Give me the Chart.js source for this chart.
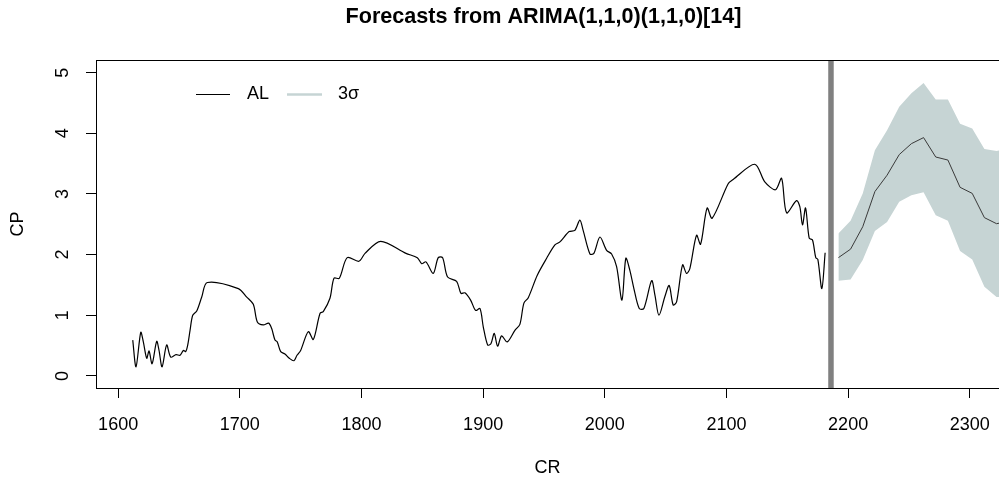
<!DOCTYPE html>
<html>
<head>
<meta charset="utf-8">
<script src="https://cdn.jsdelivr.net/npm/chart.js@4.4.0/dist/chart.umd.min.js"></script>
<style>
  html, body { margin: 0; padding: 0; background: #fff; }
</style>
</head>
<body>
<canvas id="fcChart" width="999" height="481"></canvas>
<script>
// observed series (CR -> CP)
var obsCR = [1612.0, 1614.7, 1618.6, 1620.7, 1623.5, 1625.4, 1627.9, 1631.7, 1633.6, 1636.1,
  1639.9, 1643.2, 1647.6, 1650.9, 1653.6, 1655.5, 1657.2, 1659.1, 1661.3, 1664.6,
  1668.7, 1673.3, 1698.8, 1705.7, 1711.1, 1714.4, 1719.3, 1723.7, 1726.2, 1728.9,
  1730.8, 1733.6, 1737.1, 1740.7, 1744.5, 1747.0, 1750.0, 1756.3, 1760.4, 1765.9,
  1768.6, 1774.1, 1777.4, 1781.8, 1788.3, 1797.9, 1802.9, 1815.8, 1836.6, 1845.9,
  1849.5, 1853.0, 1859.0, 1863.1, 1866.7, 1870.8, 1878.2, 1881.8, 1885.0, 1889.7,
  1893.8, 1897.4, 1900.1, 1903.7, 1906.4, 1909.1, 1911.9, 1915.2, 1919.8, 1926.1,
  1930.2, 1933.5, 1937.1, 1944.5, 1952.2, 1959.0, 1963.1, 1970.7, 1975.4, 1979.5,
  1982.2, 1987.8, 1991.0, 1996.0, 2001.5, 2005.6, 2009.7, 2014.1, 2017.3, 2020.6,
  2023.9, 2028.3, 2032.1, 2038.5, 2041.2, 2044.5, 2049.4, 2052.9, 2056.2, 2059.0,
  2063.9, 2067.2, 2069.9, 2075.4, 2078.7, 2084.1, 2088.2, 2101.4, 2105.5, 2123.3,
  2131.5, 2140.3, 2145.3, 2149.4, 2157.6, 2160.3, 2162.5, 2165.0, 2168.0, 2170.7,
  2173.4, 2175.1, 2178.4, 2181.1];
var obsCP = [0.59, 0.15, 0.72, 0.56, 0.29, 0.41, 0.20, 0.57, 0.42, 0.15,
  0.51, 0.31, 0.35, 0.34, 0.42, 0.40, 0.51, 0.75, 1.00, 1.07,
  1.30, 1.54, 1.44, 1.30, 1.18, 0.89, 0.84, 0.87, 0.78, 0.59,
  0.56, 0.40, 0.36, 0.29, 0.25, 0.34, 0.42, 0.73, 0.60, 1.03,
  1.06, 1.28, 1.61, 1.61, 1.95, 1.89, 2.02, 2.22, 2.02, 1.95,
  1.85, 1.88, 1.69, 1.95, 1.95, 1.63, 1.56, 1.36, 1.37, 1.25,
  1.08, 1.11, 0.81, 0.51, 0.53, 0.70, 0.49, 0.66, 0.56, 0.75,
  0.85, 1.20, 1.29, 1.66, 1.94, 2.16, 2.21, 2.38, 2.40, 2.57,
  2.40, 2.01, 2.02, 2.29, 2.07, 2.01, 1.80, 1.25, 1.94, 1.74,
  1.44, 1.11, 1.11, 1.57, 1.33, 1.00, 1.31, 1.49, 1.17, 1.22,
  1.83, 1.69, 1.77, 2.32, 2.17, 2.77, 2.60, 3.17, 3.24, 3.49,
  3.20, 3.07, 3.26, 2.69, 2.89, 2.79, 2.49, 2.77, 2.27, 2.24,
  1.95, 1.92, 1.44, 2.03];

// forecast
var fcCR = [2192, 2202, 2212, 2222, 2232, 2242, 2252, 2262, 2272, 2282, 2292, 2302, 2312, 2322, 2332];
var fcMean = [1.95, 2.09, 2.46, 3.04, 3.31, 3.65, 3.83, 3.93, 3.61, 3.56, 3.11, 3.01, 2.61, 2.51, 2.55];
var fcUpper = [2.35, 2.56, 3.01, 3.72, 4.05, 4.44, 4.66, 4.83, 4.56, 4.56, 4.16, 4.08, 3.74, 3.71, 3.75];
var fcLower = [1.57, 1.59, 1.91, 2.39, 2.54, 2.87, 2.98, 3.03, 2.65, 2.56, 2.06, 1.92, 1.47, 1.30, 1.30];

var cutCR = 2185.9;
var chartTitle = 'Forecasts from ARIMA(1,1,0)(1,1,0)[14]';
var bandColor = '#c6d4d4';
var fontFam = '"Liberation Sans", Arial, sans-serif';

function pairs(xs, ys) {
  return xs.map(function(x, i) { return { x: x, y: ys[i] }; });
}

// extra drawing: title, box top, cut line, y labels, legend
var decorPlugin = {
  id: 'decor',
  afterDatasetsDraw: function(chart) {
    var ctx = chart.ctx;
    var area = chart.chartArea;
    var xs = chart.scales.x;
    var ys = chart.scales.y;

    // vertical cut line
    var cx = xs.getPixelForValue(cutCR);
    ctx.save();
    ctx.strokeStyle = '#808080';
    ctx.lineWidth = 5.5;
    ctx.beginPath();
    ctx.moveTo(cx, area.top);
    ctx.lineTo(cx, area.bottom);
    ctx.stroke();

    // top of box
    ctx.strokeStyle = '#000';
    ctx.lineWidth = 1;
    ctx.beginPath();
    ctx.moveTo(area.left, area.top + 0.5);
    ctx.lineTo(area.right + 2, area.top + 0.5);
    ctx.stroke();

    // title
    ctx.fillStyle = '#000';
    ctx.font = 'bold 21.6px ' + fontFam;
    ctx.textAlign = 'center';
    ctx.textBaseline = 'middle';
    ctx.fillText(chartTitle, 543.5, 17);

    // rotated y tick labels
    ctx.font = '18px ' + fontFam;
    ys.ticks.forEach(function(t) {
      var py = ys.getPixelForValue(t.value);
      ctx.save();
      ctx.translate(63, py);
      ctx.rotate(-Math.PI / 2);
      ctx.fillText(String(t.value), 0, 0);
      ctx.restore();
    });

    // legend
    var ly = 94.5;
    ctx.textAlign = 'left';
    ctx.strokeStyle = '#000';
    ctx.lineWidth = 1;
    ctx.beginPath();
    ctx.moveTo(196, ly);
    ctx.lineTo(230, ly);
    ctx.stroke();
    ctx.fillText('AL', 247, ly);
    ctx.strokeStyle = bandColor;
    ctx.lineWidth = 2.5;
    ctx.beginPath();
    ctx.moveTo(287, ly);
    ctx.lineTo(322, ly);
    ctx.stroke();
    ctx.fillText('3\u03c3', 338, ly);
    ctx.restore();
  }
};

var fcChart = new Chart(document.getElementById('fcChart'), {
  type: 'line',
  data: {
    datasets: [
      {
        label: 'AL',
        data: pairs(obsCR, obsCP),
        borderColor: '#000',
        borderWidth: 1.2,
        pointRadius: 0,
        tension: 0.3,
        fill: false,
        order: 0
      },
      {
        label: '3\u03c3',
        data: pairs(fcCR, fcUpper),
        borderWidth: 0,
        borderColor: 'rgba(0,0,0,0)',
        backgroundColor: bandColor,
        pointRadius: 0,
        tension: 0,
        fill: '+1',
        order: 2
      },
      {
        label: 'lower',
        data: pairs(fcCR, fcLower),
        borderWidth: 0,
        borderColor: 'rgba(0,0,0,0)',
        pointRadius: 0,
        tension: 0,
        fill: false,
        order: 2
      },
      {
        label: 'mean',
        data: pairs(fcCR, fcMean),
        borderColor: '#3a3a3a',
        borderWidth: 1,
        pointRadius: 0,
        tension: 0,
        fill: false,
        order: 1
      }
    ]
  },
  options: {
    responsive: false,
    animation: false,
    devicePixelRatio: 1,
    layout: { padding: { top: 60, left: 0, right: 0, bottom: 0 } },
    plugins: {
      legend: { display: false },
      title: { display: false },
      tooltip: { enabled: false }
    },
    scales: {
      x: {
        type: 'linear',
        min: 1581.8,
        max: 2324,
        afterFit: function(s) {
          s.height = 93;
          s.paddingLeft = 0;
          s.paddingRight = 0;
        },
        ticks: {
          stepSize: 100,
          includeBounds: false,
          autoSkip: false,
          maxRotation: 0,
          padding: 16,
          color: '#000',
          font: { family: fontFam, size: 18 },
          callback: function(v) { return String(v); }
        },
        grid: { drawOnChartArea: false, tickLength: 10, color: '#000' },
        border: { color: '#000', width: 1 },
        title: {
          display: true,
          text: 'CR',
          color: '#000',
          font: { family: fontFam, size: 18 },
          padding: { top: 0, bottom: 2 }
        }
      },
      y: {
        min: -0.2,
        max: 5.21,
        afterFit: function(s) {
          s.width = 96;
          s.paddingTop = 0;
          s.paddingBottom = 0;
        },
        ticks: {
          stepSize: 1,
          includeBounds: false,
          color: 'rgba(0,0,0,0)',
          font: { family: fontFam, size: 18 }
        },
        grid: { drawOnChartArea: false, tickLength: 10, color: '#000' },
        border: { color: '#000', width: 1 },
        title: {
          display: true,
          text: 'CP',
          color: '#000',
          font: { family: fontFam, size: 18 },
          padding: { top: 7, bottom: 0 }
        }
      }
    }
  },
  plugins: [decorPlugin]
});
</script>
</body>
</html>
